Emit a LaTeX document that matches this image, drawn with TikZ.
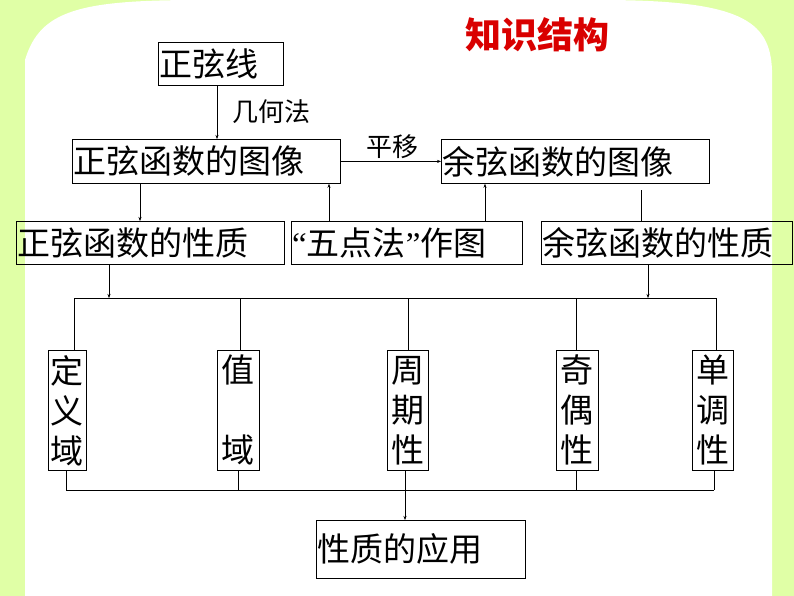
\documentclass[tikz,border=0pt]{standalone}
\usepackage{fontspec}
\newfontfamily\cjk{Noto Sans CJK SC}
\newfontfamily\qf{Liberation Serif}
\usetikzlibrary{arrows.meta}
\begin{document}
\begin{tikzpicture}[x=1pt,y=-1pt,
  bx/.style={draw,thick,inner sep=0pt,anchor=north west},
  tx/.style={anchor=west,font=\cjk\fontsize{33}{36}\selectfont,inner sep=0pt,xshift=1pt},
  vb/.style={draw,thick,inner sep=0pt,anchor=north west,font=\cjk\fontsize{33}{40}\selectfont,align=center},
  lb/.style={font=\cjk\fontsize{26}{30}\selectfont,inner sep=0pt},
  ar/.style={-{Stealth[length=4pt,width=3pt]}}]
\fill[green!35!yellow!35] (0,0) rectangle (794,596);
\fill[white] (25,596) -- (25,60) .. controls (40,10) and (80,0) .. (200,0) -- (600,0) .. controls (740,0) and (770,20) .. (772,70) -- (772,596) -- cycle;
\useasboundingbox (0,0) rectangle (794,596);
\node[font=\cjk\bfseries\fontsize{36}{40}\selectfont,text=red!85!black] (title) at (537,35) {知识结构};
\node[bx,minimum width=125,minimum height=43] (zx) at (158,42) {};
\node[tx] at (zx.west) {正弦线};
\node[bx,minimum width=268,minimum height=44] (zt) at (72,139) {};
\node[tx] at (zt.west) {正弦函数的图像};
\node[bx,minimum width=268,minimum height=44] (yt) at (441,139) {};
\node[tx] at (yt.west) {余弦函数的图像};
\node[bx,minimum width=268,minimum height=43] (zp) at (16,221) {};
\node[tx] at (zp.west) {正弦函数的性质};
\node[bx,minimum width=231,minimum height=43] (wd) at (291,221) {};
\node[tx] at (wd.west) {{\qf“}五点法{\qf”}作图};
\node[bx,minimum width=251,minimum height=43] (yp) at (541,221) {};
\node[tx] at (yp.west) {余弦函数的性质};
\node[lb] (jh) at (271,112) {几何法};
\node[lb] (py) at (392,147) {平移};
\draw[ar] (zx.south-|217,0) -- (zt.north-|217,0);
\draw[ar] (zt.east) -- (yt.west);
\draw[ar] (zt.south-|140,0) -- (zp.north-|140,0);
\draw[ar] (wd.north-|329,0) -- (zt.south-|329,0);
\draw[ar] (wd.north-|485,0) -- (yt.south-|485,0);
\coordinate (yc) at (641,190);
\draw (yc) -- (yp.north-|641,0);
\coordinate (hl) at (74,298); \coordinate (hr) at (716,298);
\draw[ar] (zp.south-|109,0) -- (109,298);
\draw[ar] (yp.south-|648,0) -- (648,298);
\draw (hl) -- (hr);
\node[vb,minimum width=38,minimum height=120] (d1) at (48,350) {定\\义\\域};
\node[vb,minimum width=42,minimum height=120] (d2) at (217,350) {值\\[40pt]域};
\node[vb,minimum width=41,minimum height=120] (d3) at (387,350) {周\\期\\性};
\node[vb,minimum width=42,minimum height=120] (d4) at (556,350) {奇\\偶\\性};
\node[vb,minimum width=41,minimum height=120] (d5) at (692,350) {单\\调\\性};
\foreach \n/\x in {d1/74,d2/240,d3/408,d4/576,d5/716} \draw (\x,298) -- (\n.north-|\x,0);
\coordinate (bl) at (66,490); \coordinate (br) at (714,490);
\foreach \n/\x in {d1/66,d2/238,d3/405,d4/576,d5/714} \draw (\n.south-|\x,0) -- (\x,490);
\draw (bl) -- (br);
\node[bx,minimum width=209,minimum height=58] (yy) at (316,520) {};
\node[tx] at (yy.west) {性质的应用};
\draw[ar] (405,490) -- (yy.north-|405,0);
\end{tikzpicture}
\end{document}
